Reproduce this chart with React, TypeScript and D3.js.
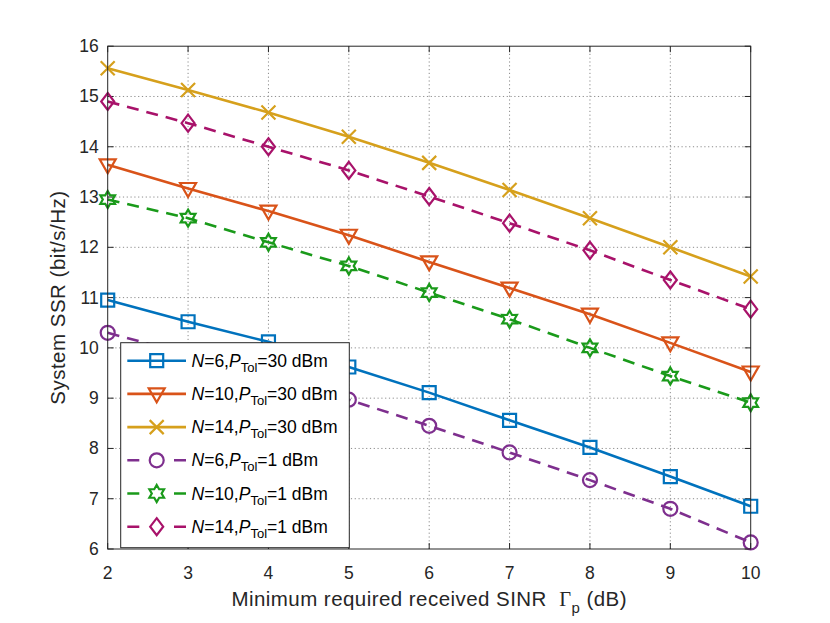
import * as d3 from "d3";

const xValues = [2, 3, 4, 5, 6, 7, 8, 9, 10];
const xTicks = [2, 3, 4, 5, 6, 7, 8, 9, 10];
const yTicks = [6, 7, 8, 9, 10, 11, 12, 13, 14, 15, 16];

const n6p30 = [10.95, 10.52, 10.12, 9.62, 9.11, 8.56, 8.02, 7.44, 6.85];
const n10p30 = [13.64, 13.17, 12.72, 12.24, 11.71, 11.19, 10.67, 10.1, 9.52];
const n14p30 = [15.56, 15.13, 14.68, 14.2, 13.68, 13.14, 12.58, 12.0, 11.42];
const n6p1 = [10.3, 9.87, 9.43, 8.97, 8.45, 7.92, 7.37, 6.8, 6.13];
const n10p1 = [12.95, 12.58, 12.1, 11.63, 11.1, 10.57, 10.0, 9.44, 8.91];
const n14p1 = [14.9, 14.47, 14.0, 13.53, 13.01, 12.48, 11.94, 11.35, 10.77];

type Marker = "square" | "triDown" | "cross" | "circle" | "hexagram" | "diamond";

const series = [
  { n: "6", p: "30", values: n6p30, color: "#0072BD", dashed: false, marker: "square" as Marker },
  { n: "10", p: "30", values: n10p30, color: "#D95319", dashed: false, marker: "triDown" as Marker },
  { n: "14", p: "30", values: n14p30, color: "#D6A01C", dashed: false, marker: "cross" as Marker },
  { n: "6", p: "1", values: n6p1, color: "#7E2F8E", dashed: true, marker: "circle" as Marker },
  { n: "10", p: "1", values: n10p1, color: "#1A9A1A", dashed: true, marker: "hexagram" as Marker },
  { n: "14", p: "1", values: n14p1, color: "#A8126A", dashed: true, marker: "diamond" as Marker },
];

const W = 830;
const H = 623;
const font = "'Liberation Sans', Arial, Helvetica, sans-serif";

const x = d3.scaleLinear().domain([2, 10]).range([107.7, 750.7]);
const y = d3.scaleLinear().domain([6, 16]).range([549, 46.2]);

function markerPath(m: Marker): string {
  switch (m) {
    case "square":
      return "M-6.5,-6.5H6.5V6.5H-6.5Z";
    case "triDown":
      return "M-8,-5.5L8,-5.5L0,8.5Z";
    case "cross":
      return "M-7,-7L7,7M-7,7L7,-7";
    case "circle":
      return "M7,0A7,7 0 1,1 -7,0A7,7 0 1,1 7,0Z";
    case "diamond":
      return "M0,-8.5L6.5,0L0,8.5L-6.5,0Z";
    case "hexagram": {
      const pts: string[] = [];
      for (let i = 0; i < 12; i++) {
        const r = i % 2 === 0 ? 8.5 : 4.9;
        const a = (Math.PI / 6) * i - Math.PI / 2;
        pts.push(`${(r * Math.cos(a)).toFixed(2)},${(r * Math.sin(a)).toFixed(2)}`);
      }
      return "M" + pts.join("L") + "Z";
    }
  }
}

export default function App() {
  const line = d3
    .line<number>()
    .x((_, i) => x(xValues[i]))
    .y((d) => y(d));

  const [x0, x1] = x.range();
  const [yb, yt] = y.range();

  // legend box
  const legX = 120.7;
  const legY = 342.7;
  const legW = 228.6;
  const legH = 205;
  const rowH = 33.2;

  return (
    <svg
      width={W}
      height={H}
      style={{ position: "absolute", left: 0, top: 0, background: "#fff" }}
      fontFamily={font}
    >
      {/* grid */}
      <g stroke="#8c8c8c" strokeWidth={1} strokeDasharray="1.2,2.6">
        {xTicks.slice(1, -1).map((t) => (
          <line key={"gx" + t} x1={x(t)} x2={x(t)} y1={yb} y2={yt} />
        ))}
        {yTicks.slice(1, -1).map((t) => (
          <line key={"gy" + t} x1={x0} x2={x1} y1={y(t)} y2={y(t)} />
        ))}
      </g>

      {/* ticks */}
      <g stroke="#262626" strokeWidth={1}>
        {xTicks.map((t) => (
          <g key={"tx" + t}>
            <line x1={x(t)} x2={x(t)} y1={yb} y2={yb - 6} />
            <line x1={x(t)} x2={x(t)} y1={yt} y2={yt + 6} />
          </g>
        ))}
        {yTicks.map((t) => (
          <g key={"ty" + t}>
            <line x1={x0} x2={x0 + 6} y1={y(t)} y2={y(t)} />
            <line x1={x1} x2={x1 - 6} y1={y(t)} y2={y(t)} />
          </g>
        ))}
      </g>

      {/* series */}
      {series.map((s, si) => (
        <g key={"s" + si}>
          <path
            d={line(s.values) ?? ""}
            fill="none"
            stroke={s.color}
            strokeWidth={2.6}
            strokeDasharray={s.dashed ? "12,8" : undefined}
          />
          {s.values.map((v, i) => (
            <path
              key={i}
              d={markerPath(s.marker)}
              transform={`translate(${x(xValues[i])},${y(v)})`}
              fill="none"
              stroke={s.color}
              strokeWidth={2.2}
            />
          ))}
        </g>
      ))}

      {/* axes box */}
      <rect
        x={x0}
        y={yt}
        width={x1 - x0}
        height={yb - yt}
        fill="none"
        stroke="#262626"
        strokeWidth={1}
      />

      {/* tick labels */}
      <g fontSize={17.5} fill="#262626">
        {xTicks.map((t) => (
          <text key={"lx" + t} x={x(t)} y={yb + 30} textAnchor="middle">
            {t}
          </text>
        ))}
        {yTicks.map((t) => (
          <text key={"ly" + t} x={x0 - 9} y={y(t) + 6} textAnchor="end">
            {t}
          </text>
        ))}
      </g>

      {/* axis labels */}
      <text
        x={(x0 + x1) / 2}
        y={606}
        textAnchor="middle"
        fontSize={20.5}
        letterSpacing={0.45}
        fill="#262626"
      >
        Minimum required received SINR{"\u00a0\u00a0"}
        <tspan fontFamily="'Liberation Serif', 'Times New Roman', serif">Γ</tspan>
        <tspan fontSize={15} dy={7}>p</tspan>
        <tspan dy={-7}> (dB)</tspan>
      </text>
      <text
        transform={`translate(65,${(yb + yt) / 2}) rotate(-90)`}
        textAnchor="middle"
        fontSize={20.5}
        letterSpacing={0.5}
        fill="#262626"
      >
        System SSR (bit/s/Hz)
      </text>

      {/* legend */}
      <g>
        <rect x={legX} y={legY} width={legW} height={legH} fill="#fff" stroke="#262626" strokeWidth={1} />
        {series.map((s, i) => {
          const cy = legY + 18 + i * rowH;
          return (
            <g key={"leg" + i}>
              <line
                x1={127.3}
                x2={186}
                y1={cy}
                y2={cy}
                stroke={s.color}
                strokeWidth={2.6}
                strokeDasharray={s.dashed ? "12,34.7" : undefined}
              />
              <path
                d={markerPath(s.marker)}
                transform={`translate(156.7,${cy})`}
                fill="none"
                stroke={s.color}
                strokeWidth={2.2}
              />
              <text x={191.5} y={cy + 6} fontSize={17.5} fill="#000">
                <tspan fontStyle="italic">N</tspan>
                <tspan>={s.n},</tspan>
                <tspan fontStyle="italic">P</tspan>
                <tspan fontSize={13} dy={5}>Tol</tspan>
                <tspan dy={-5}>={s.p} dBm</tspan>
              </text>
            </g>
          );
        })}
      </g>
    </svg>
  );
}
